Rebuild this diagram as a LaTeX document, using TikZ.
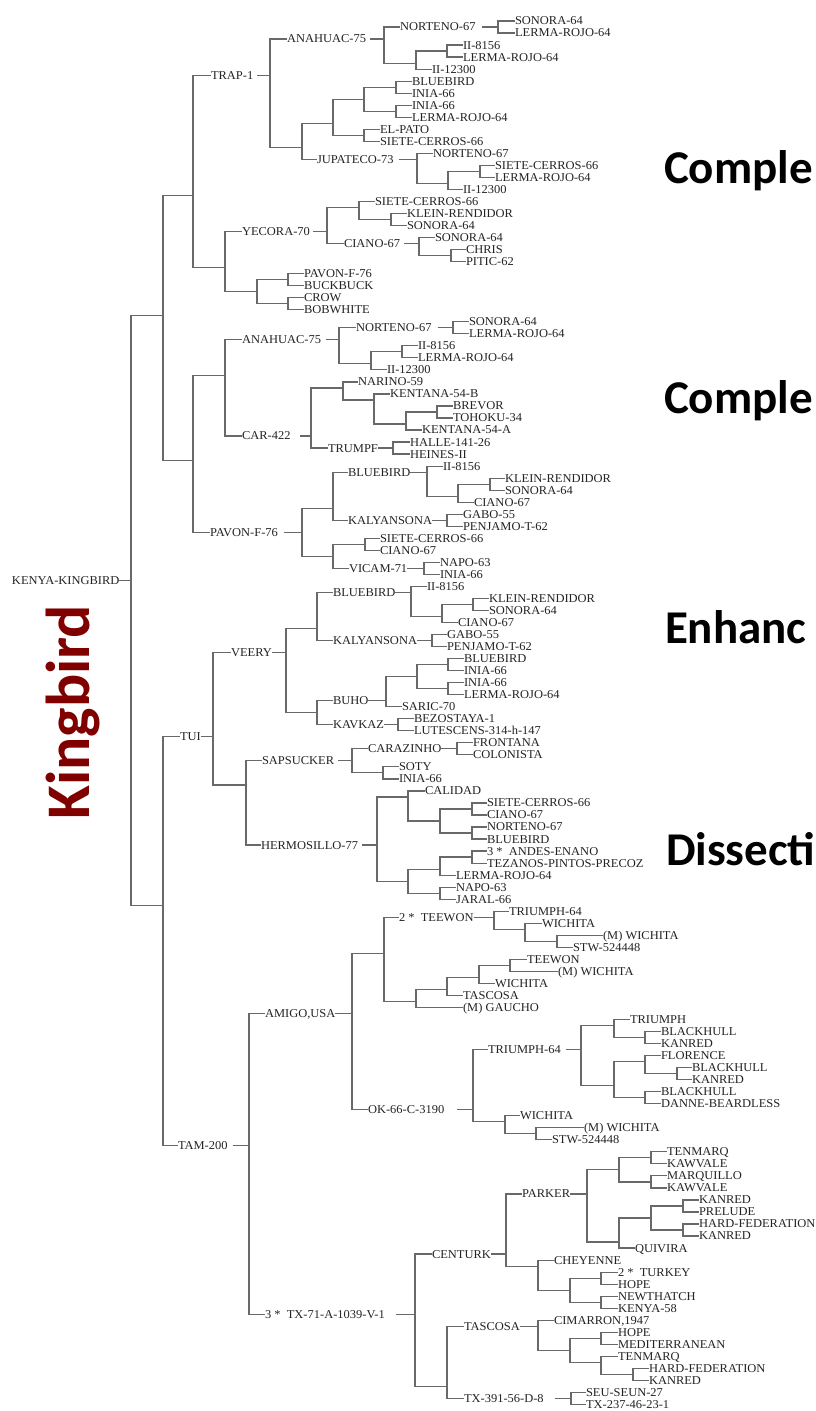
\documentclass[tikz,border=0pt]{standalone}
\usepackage{fontspec}
\newfontfamily\tf{Liberation Serif}[FakeStretch=1.04]
\newfontfamily\cb{Carlito}
\definecolor{lc}{RGB}{105,105,105}
\definecolor{tc}{RGB}{35,35,35}
\definecolor{kb}{RGB}{128,0,0}
\newcommand\rw[1]{21+12.03*(#1)}
\tikzset{
  ln/.style={draw=lc, line width=1.2pt},
  lab/.style={anchor=west, inner sep=0pt, outer sep=0pt, text height=7.9pt, text depth=0pt, font=\tf\fontsize{12}{14}\selectfont, text=tc},
  jn/.style={inner sep=0pt, outer sep=0pt, minimum size=0pt},
  big/.style={anchor=base west, inner sep=0pt, outer sep=0pt, font=\cb\bfseries\fontsize{47}{47}\selectfont, text=black}
}
\newcommand\tLeaf[4]{\node[lab] (#1) at (#2,{\rw{#3}}) {#4};}
\newcommand\tInt[6]{\node[lab] (#1) at (#2,{\rw{#3}}) {#5};
  \node[jn] (#1j) at (#4,{\rw{#3}}) {};
  \draw[ln, shorten <=#6pt] (#1.east) -- (#1j);}
\newcommand\tUn[3]{\node[jn] (#1) at (#2,{\rw{#3}}) {}; \node[jn] (#1j) at (#2,{\rw{#3}}) {};}
\newcommand\tKids[3]{\draw[ln] (#2.west) -| (#1j) |- (#3.west);}
\begin{document}
\begin{tikzpicture}[x=1pt,y=-1pt]
\fill[white] (0,0) rectangle (815,1411);
\useasboundingbox (0,0) rectangle (815,1411);
% root
\tInt{R}{12}{46.5}{131}{KENYA-KINGBIRD}{0}
\tUn{U1}{163}{24.5} \tUn{U6}{163}{73.5} \tKids{R}{U1}{U6}
\tUn{U2}{193}{14.5} \tUn{U4}{193}{36.5} \tKids{U1}{U2}{U4}
\tInt{TRAP}{211}{4.5}{270}{TRAP-1}{4} \tUn{U3}{225}{20.5} \tKids{U2}{TRAP}{U3}
\tInt{ANAa}{287}{1.5}{384}{ANAHUAC-75}{4} \tUn{Ua}{302}{10.5} \tKids{TRAP}{ANAa}{Ua}
\tInt{NORa}{400}{0.5}{498}{NORTENO-67}{6} \tUn{Ub}{416}{3.5} \tKids{ANAa}{NORa}{Ub}
\tLeaf{l0}{515}{0}{SONORA-64} \tLeaf{l1}{515}{1}{LERMA-ROJO-64} \tKids{NORa}{l0}{l1}
\tUn{Uc}{447}{2.5} \tLeaf{l4}{432}{4}{II-12300} \tKids{Ub}{Uc}{l4}
\tLeaf{l2}{463}{2}{II-8156} \tLeaf{l3}{463}{3}{LERMA-ROJO-64} \tKids{Uc}{l2}{l3}
\tUn{Ud}{333}{8.5} \tInt{JUP}{317}{11.5}{417}{JUPATECO-73}{5} \tKids{Ua}{Ud}{JUP}
\tUn{Ue}{364}{6.5} \tUn{Uf}{364}{9.5} \tKids{Ud}{Ue}{Uf}
\tUn{Ug}{396}{5.5} \tUn{Uh}{396}{7.5} \tKids{Ue}{Ug}{Uh}
\tLeaf{l5}{412}{5}{BLUEBIRD} \tLeaf{l6}{412}{6}{INIA-66} \tKids{Ug}{l5}{l6}
\tLeaf{l7}{412}{7}{INIA-66} \tLeaf{l8}{412}{8}{LERMA-ROJO-64} \tKids{Uh}{l7}{l8}
\tLeaf{l9}{380}{9}{EL-PATO} \tLeaf{l10}{380}{10}{SIETE-CERROS-66} \tKids{Uf}{l9}{l10}
\tLeaf{l11}{433}{11}{NORTENO-67} \tUn{Ui}{448}{13.5} \tKids{JUP}{l11}{Ui}
\tUn{Uj}{480}{12.5} \tLeaf{l14}{463}{14}{II-12300} \tKids{Ui}{Uj}{l14}
\tLeaf{l12}{495}{12}{SIETE-CERROS-66} \tLeaf{l13}{495}{13}{LERMA-ROJO-64} \tKids{Uj}{l12}{l13}
% U3
\tInt{YEC}{242}{17.5}{327}{YECORA-70}{3} \tUn{Uk}{257}{22.5} \tKids{U3}{YEC}{Uk}
\tUn{Ul}{359}{15.5} \tInt{CIAa}{344}{18.5}{419}{CIANO-67}{4} \tKids{YEC}{Ul}{CIAa}
\tLeaf{l15}{375}{15}{SIETE-CERROS-66} \tUn{Um}{391}{16.5} \tKids{Ul}{l15}{Um}
\tLeaf{l16}{407}{16}{KLEIN-RENDIDOR} \tLeaf{l17}{407}{17}{SONORA-64} \tKids{Um}{l16}{l17}
\tLeaf{l18}{435}{18}{SONORA-64} \tUn{Un}{451}{19.5} \tKids{CIAa}{l18}{Un}
\tLeaf{l19}{466}{19}{CHRIS} \tLeaf{l20}{466}{20}{PITIC-62} \tKids{Un}{l19}{l20}
\tUn{Uo}{288}{21.5} \tUn{Up}{288}{23.5} \tKids{Uk}{Uo}{Up}
\tLeaf{l21}{304}{21}{PAVON-F-76} \tLeaf{l22}{304}{22}{BUCKBUCK} \tKids{Uo}{l21}{l22}
\tLeaf{l23}{304}{23}{CROW} \tLeaf{l24}{304}{24}{BOBWHITE} \tKids{Up}{l23}{l24}
% U4
\tUn{U5}{225}{29.5} \tInt{PAV}{210}{42.5}{302}{PAVON-F-76}{6} \tKids{U4}{U5}{PAV}
\tInt{ANAb}{242}{26.5}{339}{ANAHUAC-75}{5} \tInt{CAR}{242}{34.5}{311}{CAR-422}{9} \tKids{U5}{ANAb}{CAR}
\tInt{NORb}{356}{25.5}{453}{NORTENO-67}{6} \tUn{Uq}{371}{28.5} \tKids{ANAb}{NORb}{Uq}
\tLeaf{l25}{469}{25}{SONORA-64} \tLeaf{l26}{469}{26}{LERMA-ROJO-64} \tKids{NORb}{l25}{l26}
\tUn{Ur}{402}{27.5} \tLeaf{l29}{387}{29}{II-12300} \tKids{Uq}{Ur}{l29}
\tLeaf{l27}{418}{27}{II-8156} \tLeaf{l28}{418}{28}{LERMA-ROJO-64} \tKids{Ur}{l27}{l28}
\tUn{Us}{343}{30.5} \tInt{TRU}{328}{35.5}{393}{TRUMPF}{0} \tKids{CAR}{Us}{TRU}
\tLeaf{l30}{358}{30}{NARINO-59} \tUn{Ut}{374}{31.5} \tKids{Us}{l30}{Ut}
\tLeaf{l31}{390}{31}{KENTANA-54-B} \tUn{Uu}{406}{33.5} \tKids{Ut}{l31}{Uu}
\tUn{Uv}{437}{32.5} \tLeaf{l34}{422}{34}{KENTANA-54-A} \tKids{Uu}{Uv}{l34}
\tLeaf{l32}{453}{32}{BREVOR} \tLeaf{l33}{453}{33}{TOHOKU-34} \tKids{Uv}{l32}{l33}
\tLeaf{l35}{410}{35}{HALLE-141-26} \tLeaf{l36}{410}{36}{HEINES-II} \tKids{TRU}{l35}{l36}
\tUn{Uw}{333}{40.5} \tUn{Ux}{333}{44.5} \tKids{PAV}{Uw}{Ux}
\tInt{BLUa}{348}{37.5}{427}{BLUEBIRD}{0} \tInt{KALa}{348}{41.5}{447}{KALYANSONA}{0} \tKids{Uw}{BLUa}{KALa}
\tLeaf{l37}{443}{37}{II-8156} \tUn{Uy}{458}{39.5} \tKids{BLUa}{l37}{Uy}
\tUn{Uz}{490}{38.5} \tLeaf{l40}{474}{40}{CIANO-67} \tKids{Uy}{Uz}{l40}
\tLeaf{l38}{505}{38}{KLEIN-RENDIDOR} \tLeaf{l39}{505}{39}{SONORA-64} \tKids{Uz}{l38}{l39}
\tLeaf{l41}{463}{41}{GABO-55} \tLeaf{l42}{463}{42}{PENJAMO-T-62} \tKids{KALa}{l41}{l42}
\tUn{Va}{365}{43.5} \tInt{VIC}{349}{45.5}{424}{VICAM-71}{0} \tKids{Ux}{Va}{VIC}
\tLeaf{l43}{380}{43}{SIETE-CERROS-66} \tLeaf{l44}{380}{44}{CIANO-67} \tKids{Va}{l43}{l44}
\tLeaf{l45}{440}{45}{NAPO-63} \tLeaf{l46}{440}{46}{INIA-66} \tKids{VIC}{l45}{l46}
% U6
\tInt{TUI}{180}{59.5}{213}{TUI}{0} \tInt{TAM}{178}{93.5}{249}{TAM-200}{5} \tKids{U6}{TUI}{TAM}
\tInt{VEE}{231}{52.5}{286}{VEERY}{0} \tUn{Vb}{246}{63.5} \tKids{TUI}{VEE}{Vb}
\tUn{Vc}{317}{50.5} \tUn{Vd}{317}{57.5} \tKids{VEE}{Vc}{Vd}
\tInt{BLUb}{333}{47.5}{411}{BLUEBIRD}{0} \tInt{KALb}{333}{51.5}{432}{KALYANSONA}{0} \tKids{Vc}{BLUb}{KALb}
\tLeaf{l47}{427}{47}{II-8156} \tUn{Ve}{442}{49.5} \tKids{BLUb}{l47}{Ve}
\tUn{Vf}{473}{48.5} \tLeaf{l50}{458}{50}{CIANO-67} \tKids{Ve}{Vf}{l50}
\tLeaf{l48}{489}{48}{KLEIN-RENDIDOR} \tLeaf{l49}{489}{49}{SONORA-64} \tKids{Vf}{l48}{l49}
\tLeaf{l51}{447}{51}{GABO-55} \tLeaf{l52}{447}{52}{PENJAMO-T-62} \tKids{KALb}{l51}{l52}
\tInt{BUH}{333}{56.5}{386}{BUHO}{0} \tInt{KAV}{333}{58.5}{398}{KAVKAZ}{0} \tKids{Vd}{BUH}{KAV}
\tUn{Vg}{417}{54.5} \tLeaf{l57}{402}{57}{SARIC-70} \tKids{BUH}{Vg}{l57}
\tUn{Vh}{448}{53.5} \tUn{Vi}{448}{55.5} \tKids{Vg}{Vh}{Vi}
\tLeaf{l53}{464}{53}{BLUEBIRD} \tLeaf{l54}{464}{54}{INIA-66} \tKids{Vh}{l53}{l54}
\tLeaf{l55}{464}{55}{INIA-66} \tLeaf{l56}{464}{56}{LERMA-ROJO-64} \tKids{Vi}{l55}{l56}
\tLeaf{l58}{414}{58}{BEZOSTAYA-1} \tLeaf{l59}{414}{59}{LUTESCENS-314-h-147} \tKids{KAV}{l58}{l59}
\tInt{SAP}{262}{61.5}{352}{SAPSUCKER}{4} \tInt{HER}{261}{68.5}{377}{HERMOSILLO-77}{4} \tKids{Vb}{SAP}{HER}
\tInt{CARZ}{368}{60.5}{457}{CARAZINHO}{0} \tUn{Vj}{383}{62.5} \tKids{SAP}{CARZ}{Vj}
\tLeaf{l60}{473}{60}{FRONTANA} \tLeaf{l61}{473}{61}{COLONISTA} \tKids{CARZ}{l60}{l61}
\tLeaf{l62}{399}{62}{SOTY} \tLeaf{l63}{399}{63}{INIA-66} \tKids{Vj}{l62}{l63}
\tUn{Vk}{408}{64.5} \tUn{Vl}{408}{71.5} \tKids{HER}{Vk}{Vl}
\tLeaf{l64}{425}{64}{CALIDAD} \tUn{Vm}{440}{66.5} \tKids{Vk}{l64}{Vm}
\tUn{Vn}{472}{65.5} \tUn{Vo}{472}{67.5} \tKids{Vm}{Vn}{Vo}
\tLeaf{l65}{487}{65}{SIETE-CERROS-66} \tLeaf{l66}{487}{66}{CIANO-67} \tKids{Vn}{l65}{l66}
\tLeaf{l67}{487}{67}{NORTENO-67} \tLeaf{l68}{487}{68}{BLUEBIRD} \tKids{Vo}{l67}{l68}
\tUn{Vp}{440}{70.5} \tUn{Vq}{440}{72.5} \tKids{Vl}{Vp}{Vq}
\tUn{Vr}{472}{69.5} \tLeaf{l71}{456}{71}{LERMA-ROJO-64} \tKids{Vp}{Vr}{l71}
\tLeaf{l69}{487}{69}{3 *\ \ ANDES-ENANO} \tLeaf{l70}{487}{70}{TEZANOS-PINTOS-PRECOZ} \tKids{Vr}{l69}{l70}
\tLeaf{l72}{456}{72}{NAPO-63} \tLeaf{l73}{456}{73}{JARAL-66} \tKids{Vq}{l72}{l73}
% TAM
\tInt{AMI}{265}{82.5}{352}{AMIGO,USA}{0} \tInt{TXa}{265}{107.5}{415}{3 *\ \ TX-71-A-1039-V-1}{11} \tKids{TAM}{AMI}{TXa}
\tUn{Vs}{384}{77.5} \tInt{OK}{368}{90.5}{473}{OK-66-C-3190}{13} \tKids{AMI}{Vs}{OK}
\tInt{TEE}{399}{74.5}{494}{2 *\ \ TEEWON}{0} \tUn{Vt}{416}{81.5} \tKids{Vs}{TEE}{Vt}
\tLeaf{l74}{509}{74}{TRIUMPH-64} \tUn{Vu}{525}{75.5} \tKids{TEE}{l74}{Vu}
\tLeaf{l75}{542}{75}{WICHITA} \tUn{Vv}{557}{76.5} \tKids{Vu}{l75}{Vv}
\tLeaf{l76}{603}{76}{(M) WICHITA} \tLeaf{l77}{573}{77}{STW-524448} \tKids{Vv}{l76}{l77}
\tUn{Vw}{447}{80.5} \tLeaf{l82}{463}{82}{(M) GAUCHO} \tKids{Vt}{Vw}{l82}
\tUn{Vx}{479}{79.5} \tLeaf{l81}{463}{81}{TASCOSA} \tKids{Vw}{Vx}{l81}
\tUn{Vy}{510}{78.5} \tLeaf{l80}{495}{80}{WICHITA} \tKids{Vx}{Vy}{l80}
\tLeaf{l78}{527}{78}{TEEWON} \tLeaf{l79}{558}{79}{(M) WICHITA} \tKids{Vy}{l78}{l79}
\tInt{TRI}{488}{85.5}{581}{TRIUMPH-64}{5} \tUn{Vz}{505}{91.5} \tKids{OK}{TRI}{Vz}
\tUn{Wa}{614}{83.5} \tUn{Wb}{614}{88.5} \tKids{TRI}{Wa}{Wb}
\tLeaf{l83}{630}{83}{TRIUMPH} \tUn{Wc}{645}{84.5} \tKids{Wa}{l83}{Wc}
\tLeaf{l84}{661}{84}{BLACKHULL} \tLeaf{l85}{661}{85}{KANRED} \tKids{Wc}{l84}{l85}
\tUn{Wd}{645}{86.5} \tUn{We}{645}{89.5} \tKids{Wb}{Wd}{We}
\tLeaf{l86}{661}{86}{FLORENCE} \tUn{Wf}{677}{87.5} \tKids{Wd}{l86}{Wf}
\tLeaf{l87}{692}{87}{BLACKHULL} \tLeaf{l88}{692}{88}{KANRED} \tKids{Wf}{l87}{l88}
\tLeaf{l89}{661}{89}{BLACKHULL} \tLeaf{l90}{661}{90}{DANNE-BEARDLESS} \tKids{We}{l89}{l90}
\tLeaf{l91}{520}{91}{WICHITA} \tUn{Wg}{536}{92.5} \tKids{Vz}{l91}{Wg}
\tLeaf{l92}{584}{92}{(M) WICHITA} \tLeaf{l93}{552}{93}{STW-524448} \tKids{Wg}{l92}{l93}
\tInt{CEN}{432}{102.5}{506}{CENTURK}{0} \tUn{Wh}{447}{113.5} \tKids{TXa}{CEN}{Wh}
\tInt{PAR}{522}{97.5}{587}{PARKER}{0} \tUn{Wi}{538}{103.5} \tKids{CEN}{PAR}{Wi}
\tUn{Wj}{619}{95.5} \tUn{Wk}{619}{101.5} \tKids{PAR}{Wj}{Wk}
\tUn{Wl}{651}{94.5} \tUn{Wm}{651}{96.5} \tKids{Wj}{Wl}{Wm}
\tLeaf{l94}{667}{94}{TENMARQ} \tLeaf{l95}{667}{95}{KAWVALE} \tKids{Wl}{l94}{l95}
\tLeaf{l96}{667}{96}{MARQUILLO} \tLeaf{l97}{667}{97}{KAWVALE} \tKids{Wm}{l96}{l97}
\tUn{Wn}{651}{99.5} \tLeaf{l102}{635}{102}{QUIVIRA} \tKids{Wk}{Wn}{l102}
\tUn{Wo}{683}{98.5} \tUn{Wp}{683}{100.5} \tKids{Wn}{Wo}{Wp}
\tLeaf{l98}{699}{98}{KANRED} \tLeaf{l99}{699}{99}{PRELUDE} \tKids{Wo}{l98}{l99}
\tLeaf{l100}{699}{100}{HARD-FEDERATION} \tLeaf{l101}{699}{101}{KANRED} \tKids{Wp}{l100}{l101}
\tLeaf{l103}{554}{103}{CHEYENNE} \tUn{Wq}{570}{105.5} \tKids{Wi}{l103}{Wq}
\tUn{Wr}{601}{104.5} \tUn{Ws}{601}{106.5} \tKids{Wq}{Wr}{Ws}
\tLeaf{l104}{618}{104}{2 *\ \ TURKEY} \tLeaf{l105}{618}{105}{HOPE} \tKids{Wr}{l104}{l105}
\tLeaf{l106}{618}{106}{NEWTHATCH} \tLeaf{l107}{618}{107}{KENYA-58} \tKids{Ws}{l106}{l107}
\tInt{TAS}{464}{108.5}{538}{TASCOSA}{0} \tInt{TXb}{464}{114.5}{571}{TX-391-56-D-8}{11} \tKids{Wh}{TAS}{TXb}
\tLeaf{l108}{554}{108}{CIMARRON,1947} \tUn{Wt}{570}{110.5} \tKids{TAS}{l108}{Wt}
\tUn{Wu}{601}{109.5} \tUn{Wv}{601}{111.5} \tKids{Wt}{Wu}{Wv}
\tLeaf{l109}{618}{109}{HOPE} \tLeaf{l110}{618}{110}{MEDITERRANEAN} \tKids{Wu}{l109}{l110}
\tLeaf{l111}{618}{111}{TENMARQ} \tUn{Ww}{633}{112.5} \tKids{Wv}{l111}{Ww}
\tLeaf{l112}{649}{112}{HARD-FEDERATION} \tLeaf{l113}{649}{113}{KANRED} \tKids{Ww}{l112}{l113}
\tLeaf{l114}{586}{114}{SEU-SEUN-27} \tLeaf{l115}{586}{115}{TX-237-46-23-1} \tKids{TXb}{l114}{l115}
% titles
\node[rotate=90, anchor=base west, inner sep=0pt, font=\cb\bfseries\fontsize{62}{62}\selectfont, text=kb] (kingbird) at (89,820) {Kingbird};
\node[big] (t1) at (664,183) {Comple};
\node[big] (t2) at (664,413) {Comple};
\node[big] (t3) at (665,643) {Enhanc};
\node[big] (t4) at (666,865) {Dissecti};
\end{tikzpicture}
\end{document}
